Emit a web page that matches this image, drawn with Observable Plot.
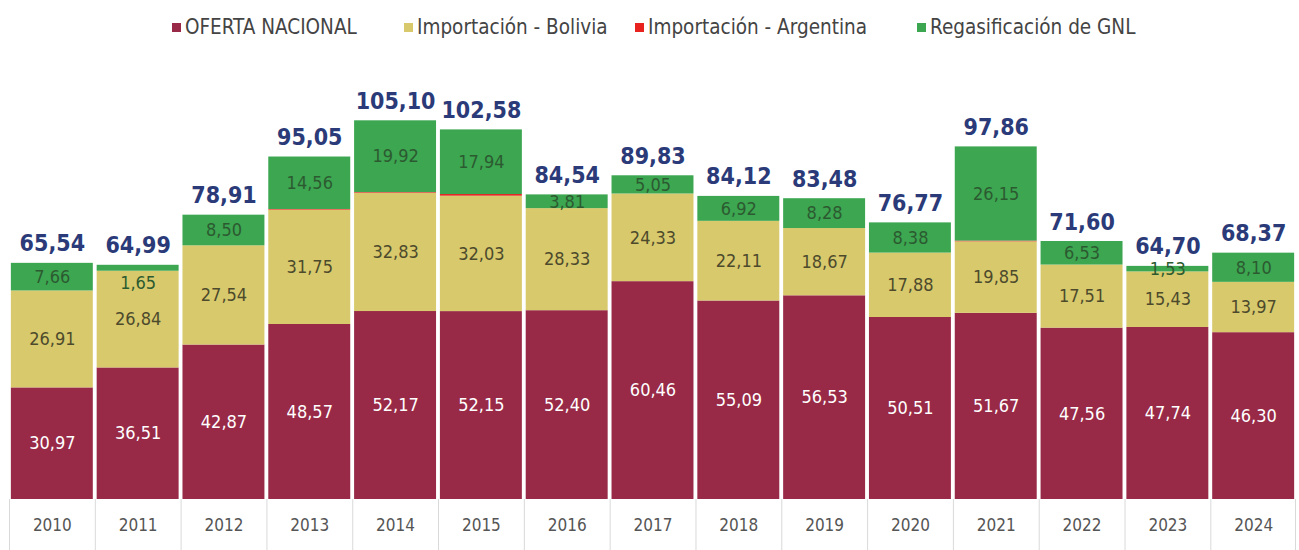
<!DOCTYPE html>
<html><head><meta charset="utf-8">
<script src="https://cdn.jsdelivr.net/npm/d3@7"></script>
<script src="https://cdn.jsdelivr.net/npm/@observablehq/plot@0.6"></script>
<style>
body{margin:0;background:#fff;font-family:"DejaVu Sans Condensed","DejaVu Sans",sans-serif;font-stretch:condensed;}
#legend{height:45px;position:relative;font-size:20.5px;color:#444;}
#legend div{position:absolute;top:16px;white-space:nowrap;line-height:22px}
#legend span.sw{display:inline-block;width:9px;height:9px;margin-right:4px;vertical-align:middle;position:relative;top:-1px}
svg text{font-stretch:condensed}
</style></head>
<body>
<div id="legend"></div>
<div id="chart"></div>
<script>
const years = [2010,2011,2012,2013,2014,2015,2016,2017,2018,2019,2020,2021,2022,2023,2024];
const nacional = [30.97,36.51,42.87,48.57,52.17,52.15,52.40,60.46,55.09,56.53,50.51,51.67,47.56,47.74,46.30];
const bolivia = [26.91,26.84,27.54,31.75,32.83,32.03,28.33,24.33,22.11,18.67,17.88,19.85,17.51,15.43,13.97];
const argentina = [0,0,0,0.17,0.18,0.46,0,0,0,0,0,0.19,0,0,0];
const gnl = [7.66,1.65,8.50,14.56,19.92,17.94,3.81,5.05,6.92,8.28,8.38,26.15,6.53,1.53,8.10];
const totals = [65.54,64.99,78.91,95.05,105.10,102.58,84.54,89.83,84.12,83.48,76.77,97.86,71.60,64.70,68.37];
const series = ["OFERTA NACIONAL","Importación - Bolivia","Importación - Argentina","Regasificación de GNL"];
const colors = ["#982a47","#d7c96c","#e8231f","#3ca651"];

const fmt = v => v.toFixed(2).replace(".", ",");

// legend (item left positions match the reference layout)
const legX = [172, 404, 635, 917];
const leg = document.getElementById("legend");
series.forEach((s,i)=>{
  const d = document.createElement("div");
  d.style.left = legX[i] + "px";
  d.innerHTML = `<span class="sw" style="background:${colors[i]}"></span>${s}`;
  leg.appendChild(d);
});

const seriesValues = [nacional, bolivia, argentina, gnl];
const rows = [];
years.forEach((y,i)=>{
  series.forEach((s,k)=>rows.push({year:String(y), series:s, value:seriesValues[k][i]}));
});

const labNac = years.map((y,i)=>({year:String(y), v:nacional[i], y:nacional[i]/2}));
const labBol = years.map((y,i)=>({year:String(y), v:bolivia[i], y:nacional[i]+bolivia[i]/2}));
const labGnl = years.map((y,i)=>{
  const base = nacional[i]+bolivia[i]+argentina[i];
  return {year:String(y), v:gnl[i], y: y===2011 ? base - 3.3 : base + gnl[i]/2};
});
const labTot = years.map((y,i)=>({year:String(y), v:totals[i], y:totals[i]}));

const W = 1299, H = 505, ML = 10, MR = 4;
const step = (W-ML-MR)/years.length;
const bounds = years.map(String);
const FF = '"DejaVu Sans Condensed","DejaVu Sans",sans-serif';

const chart = Plot.plot({
  width: W, height: H,
  marginLeft: ML, marginRight: MR, marginTop: 0, marginBottom: 51,
  style:{fontFamily:FF, background:"#fff"},
  x:{domain: years.map(String), paddingInner:0.045, paddingOuter:0.01, round:false, label:null},
  y:{domain:[0,126], axis:null},
  color:{domain:series, range:colors},
  marks:[
    Plot.barY(rows, {x:"year", y:"value", fill:"series", order:series}),
    Plot.ruleX(bounds, {x:d=>d, y1:0, y2:-14.2, dx:-step/2, stroke:"#d9d9d9", strokeWidth:1}),
    Plot.ruleX([bounds[bounds.length-1]], {x:d=>d, y1:0, y2:-14.2, dx:step/2-1, stroke:"#d9d9d9", strokeWidth:1}),
    Plot.axisX({tickSize:0, tickPadding:19, fontSize:17, fill:"#555", label:null}),
    Plot.text(labNac, {x:"year", y:"y", text:d=>fmt(d.v), fill:"#fff", fontSize:18}),
    Plot.text(labBol, {x:"year", y:"y", text:d=>fmt(d.v), fill:"#4d4a2c", fontSize:18}),
    Plot.text(labGnl, {x:"year", y:"y", text:d=>fmt(d.v), fill:"#2c5a30", fontSize:18}),
    Plot.text(labTot, {x:"year", y:"y", text:d=>fmt(d.v), fill:"#2b3a78", fontSize:23, fontWeight:"bold", lineAnchor:"bottom", dy:-12})
  ]
});
document.getElementById("chart").appendChild(chart);
</script>
</body></html>
